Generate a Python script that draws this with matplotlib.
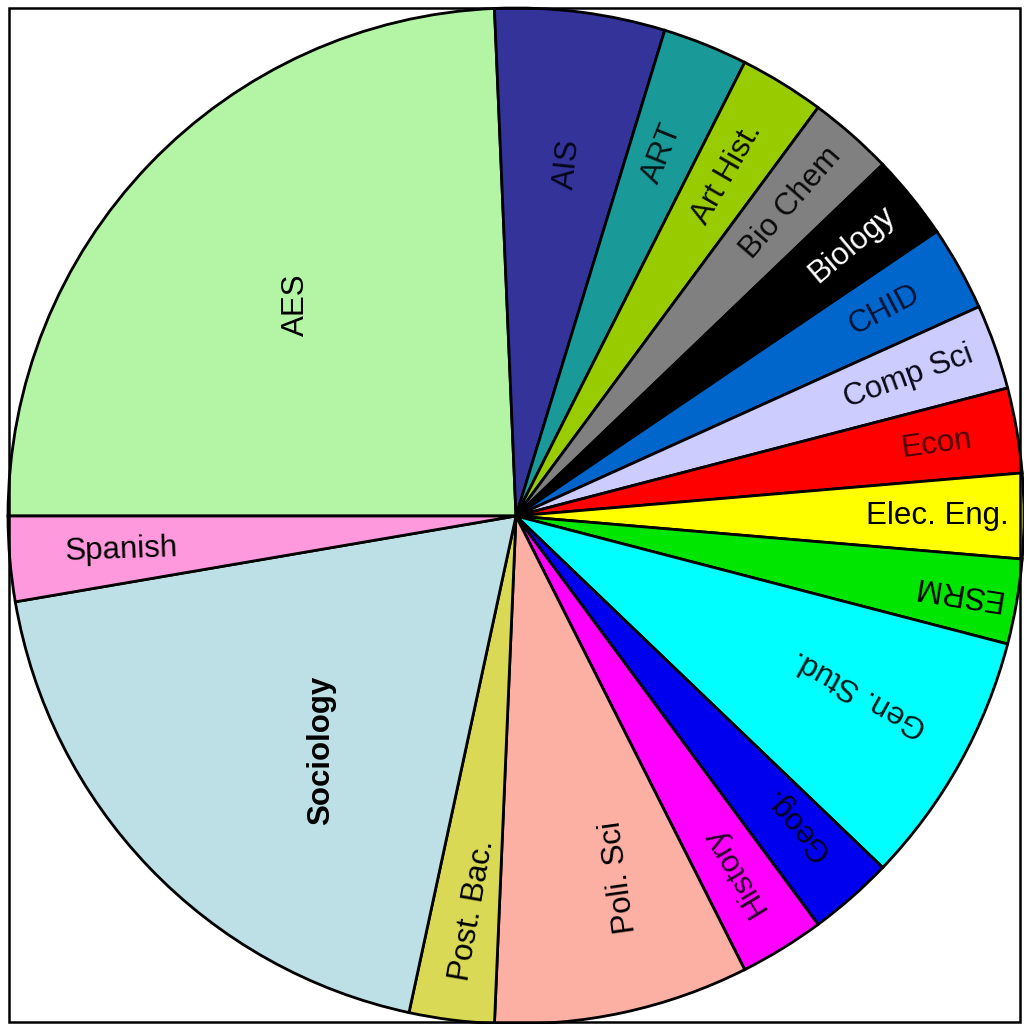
import numpy as np
import matplotlib
matplotlib.use("Agg")
import matplotlib.pyplot as plt
from matplotlib.patches import Rectangle

# Дані: кількість студентів за спеціальностями
majors = ["AES", "AIS", "ART", "Art Hist.", "Bio Chem", "Biology", "CHID",
          "Comp Sci", "Econ", "Elec. Eng.", "ESRM", "Gen. Stud.", "Geog.",
          "History", "Poli. Sci", "Post. Bac.", "Sociology", "Spanish"]
counts = [9, 2, 1, 1, 1, 1, 1, 1, 1, 1, 1, 3, 1, 1, 3, 1, 7, 1]

colors = ["#b3f5a5", "#333399", "#1a9999", "#99cc00", "#808080", "#000000",
          "#0066cc", "#ccccff", "#ff0000", "#ffff00", "#00e600", "#00ffff",
          "#0000ee", "#ff00ff", "#fcb0a4", "#d9d955", "#bde0e6", "#ff99dd"]

# Стиль підписів: відстань від центру, зсув кута, кут повороту, колір
label_r = [0.60, 0.70, 0.77, 0.79, 0.82, 0.85, 0.83, 0.82, 0.84, 0.83,
           0.88, 0.76, 0.82, 0.82, 0.74, 0.78, 0.60, 0.78]
label_shift = [0, -1, 0, 0, 0, 0, 0, 0, 0, 0,
               0, 2, 1, 0, 3.8, 1, 6.5, 0]
label_rot = [90, 84, 68, 60, 49, 40, 28, 20, 8, 0,
             171, 151, 131, 121, 98, 80, 90, 2]
label_col = ["black", "#06061a", "#031515", "#0a0d00", "#0a0a0a", "white",
             "#061433", "#0a0a1a", "#4d0000", "black", "black", "#001a1a",
             "#00001f", "#260026", "black", "black", "black", "black"]

fig = plt.figure(figsize=(10.24, 10.24), dpi=100)
ax = fig.add_axes([0, 0, 1, 1])

cx, cy, R = 516, 508, 508
wedges, _ = ax.pie(counts, colors=colors, startangle=180, counterclock=False,
                   center=(cx, cy), radius=R, frame=True,
                   wedgeprops=dict(edgecolor="black", linewidth=2.0))
ax.set_xlim(0, 1024)
ax.set_ylim(0, 1024)
ax.set_aspect("equal")
ax.axis("off")

for w, name, r, sh, rot, col in zip(wedges, majors, label_r, label_shift,
                                     label_rot, label_col):
    mid = np.deg2rad((w.theta1 + w.theta2) / 2 + sh)
    x = cx + r * R * np.cos(mid)
    y = cy + r * R * np.sin(mid)
    ax.text(x, y, name, rotation=rot, rotation_mode="anchor",
            ha="center", va="center", color=col, fontsize=22.5,
            family=["Liberation Sans", "DejaVu Sans"],
            fontweight="bold" if name == "Sociology" else "normal")

# рамка навколо діаграми
fig.patches.append(Rectangle((9 / 1024, 2 / 1024), 1011 / 1024, 1014 / 1024,
                             transform=fig.transFigure, fill=False,
                             edgecolor="black", linewidth=1.8))

fig.savefig("out.png", dpi=100, facecolor="white")
